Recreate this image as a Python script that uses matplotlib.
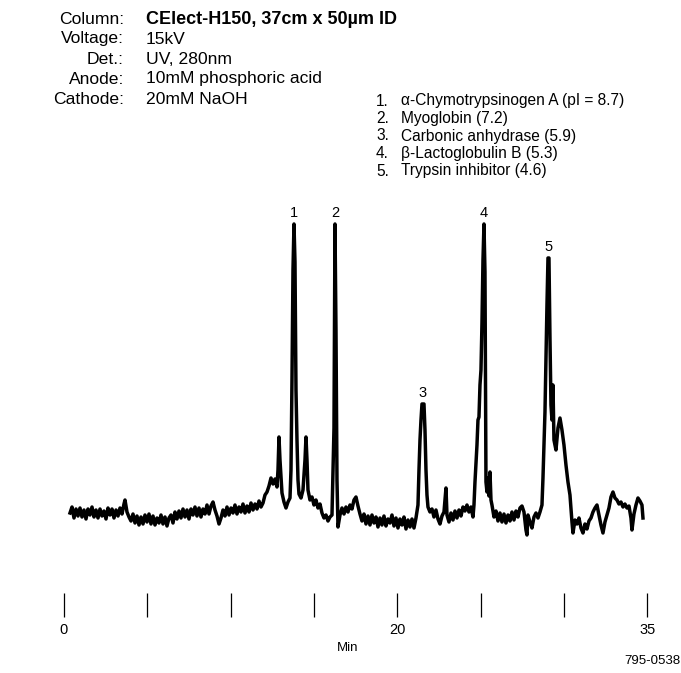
"""
Electropherogramme CElect-H150 : 5 protéines (cIEF)
Trace relevée à la main sur la figure d'origine.
"""

import matplotlib.pyplot as plt
import numpy as np

# temps de migration (min) et absorbance (mAU, échelle arbitraire)
time_min = [
    0.36, 0.48, 0.60, 0.72, 0.84, 0.96, 1.08, 1.20, 1.32, 1.44, 1.56, 1.68, 1.80, 1.92,
    2.04, 2.16, 2.28, 2.40, 2.52, 2.64, 2.76, 2.88, 3.00, 3.12, 3.24, 3.36, 3.48, 3.60,
    3.66, 3.78, 3.90, 4.02, 4.14, 4.26, 4.38, 4.50, 4.62, 4.74, 4.86, 4.98, 5.10, 5.22,
    5.34, 5.46, 5.58, 5.70, 5.82, 5.94, 6.06, 6.18, 6.30, 6.42, 6.54, 6.66, 6.78, 6.90,
    7.02, 7.14, 7.26, 7.38, 7.50, 7.62, 7.74, 7.86, 7.98, 8.10, 8.22, 8.34, 8.46, 8.58,
    8.70, 8.82, 8.94, 9.06, 9.18, 9.30, 9.42, 9.54, 9.66, 9.78, 9.90, 10.02, 10.14, 10.26,
    10.38, 10.50, 10.62, 10.74, 10.86, 10.98, 11.10, 11.22, 11.34, 11.46, 11.58, 11.70,
    11.82, 11.94, 12.06, 12.18, 12.30, 12.42, 12.54, 12.66, 12.78, 12.84, 12.90, 12.96,
    13.08, 13.20, 13.32, 13.44, 13.56, 13.62, 13.68, 13.74, 13.80, 13.86, 13.92, 13.98,
    14.04, 14.10, 14.22, 14.34, 14.46, 14.52, 14.58, 14.64, 14.76, 14.88, 15.00, 15.12,
    15.24, 15.36, 15.48, 15.60, 15.72, 15.84, 15.96, 16.08, 16.14, 16.20, 16.26, 16.32,
    16.38, 16.44, 16.56, 16.68, 16.80, 16.92, 17.04, 17.16, 17.28, 17.40, 17.52, 17.64,
    17.76, 17.88, 18.00, 18.12, 18.24, 18.36, 18.48, 18.60, 18.72, 18.84, 18.96, 19.08,
    19.20, 19.32, 19.44, 19.56, 19.68, 19.80, 19.92, 20.04, 20.16, 20.28, 20.40, 20.52,
    20.64, 20.76, 20.88, 21.00, 21.12, 21.24, 21.30, 21.36, 21.42, 21.48, 21.60, 21.66,
    21.72, 21.78, 21.84, 21.96, 22.08, 22.20, 22.32, 22.44, 22.56, 22.68, 22.80, 22.92,
    22.98, 23.10, 23.22, 23.34, 23.46, 23.58, 23.70, 23.82, 23.94, 24.06, 24.18, 24.30,
    24.42, 24.54, 24.60, 24.66, 24.78, 24.84, 24.90, 24.96, 25.02, 25.08, 25.14, 25.20,
    25.26, 25.32, 25.38, 25.44, 25.50, 25.56, 25.62, 25.68, 25.80, 25.92, 26.04, 26.16,
    26.28, 26.40, 26.52, 26.64, 26.76, 26.88, 27.00, 27.12, 27.24, 27.36, 27.48, 27.60,
    27.72, 27.78, 27.84, 27.96, 28.08, 28.20, 28.32, 28.44, 28.56, 28.68, 28.74, 28.86,
    28.98, 29.04, 29.10, 29.16, 29.22, 29.28, 29.34, 29.40, 29.52, 29.64, 29.76, 29.88,
    30.00, 30.12, 30.24, 30.36, 30.48, 30.54, 30.66, 30.78, 30.90, 31.02, 31.14, 31.26,
    31.38, 31.50, 31.62, 31.74, 31.86, 31.98, 32.10, 32.22, 32.34, 32.46, 32.58, 32.70,
    32.82, 32.94, 33.06, 33.18, 33.30, 33.42, 33.54, 33.66, 33.78, 33.90, 34.02, 34.08,
    34.20, 34.32, 34.44, 34.56, 34.68, 34.74,
]

absorbance = [
    1.7, 2.3, 1.2, 2.1, 1.4, 2.2, 1.3, 2.0, 1.1, 2.1, 1.5, 2.3, 1.3, 2.0,
    1.2, 2.1, 1.4, 1.9, 1.1, 2.2, 1.5, 2.1, 1.2, 2.0, 1.4, 2.2, 1.6, 2.6,
    3.0, 1.8, 1.3, 0.9, 1.6, 0.7, 1.4, 0.5, 1.3, 0.6, 1.5, 0.8, 1.6, 0.6,
    1.4, 0.5, 1.2, 0.7, 1.5, 0.6, 1.3, 0.4, 1.2, 1.5, 0.7, 1.8, 1.1, 1.9,
    1.2, 2.1, 1.3, 2.0, 1.1, 2.1, 1.5, 2.3, 1.4, 2.2, 1.3, 2.1, 1.6, 2.5,
    1.6, 2.4, 2.8, 2.0, 1.4, 0.6, 1.2, 2.0, 1.4, 2.3, 1.5, 2.2, 1.7, 2.5,
    1.6, 2.3, 1.8, 2.6, 1.7, 2.4, 1.8, 2.7, 2.0, 2.6, 2.1, 2.9,
    2.3, 2.7, 3.5, 3.8, 4.4, 5.2, 4.6, 5.1, 4.3, 6.0, 9.3, 7.0,
    3.7, 2.8, 2.2, 2.8, 3.2, 6.0, 15.0, 26.0, 30.6, 26.8, 14.0, 9.0,
    5.0, 3.6, 3.2, 4.0, 7.0, 9.3, 7.0, 4.0, 3.0, 3.3, 2.5, 3.0,
    2.2, 2.6, 1.7, 1.2, 1.5, 0.9, 1.3, 1.5, 6.0, 10.2, 30.6, 20.0,
    5.0, 0.3, 1.5, 2.2, 1.6, 2.3, 1.8, 2.5, 2.1, 3.0, 3.3, 2.4,
    1.6, 0.9, 1.6, 0.6, 1.4, 0.5, 1.5, 0.7, 1.3, 0.3, 1.2, 0.5,
    1.4, 0.4, 1.1, 0.7, 1.5, 0.4, 1.2, 0.2, 1.1, 0.5, 1.3, 0.1,
    1.0, 0.3, 1.1, 0.2, 1.2, 2.5, 6.0, 9.0, 11.0, 12.6, 12.6, 10.0,
    6.0, 3.5, 2.3, 1.8, 2.1, 1.3, 2.0, 1.1, 0.6, 1.4, 1.8, 4.2,
    1.5, 0.8, 1.7, 1.0, 1.9, 1.2, 2.0, 1.4, 2.3, 1.9, 2.5, 1.8,
    2.3, 1.3, 2.5, 4.8, 8.5, 11.0, 11.3, 14.5, 16.0, 20.7, 27.0, 30.6,
    25.8, 4.8, 3.8, 5.2, 3.4, 5.8, 3.0, 2.5, 1.3, 1.9, 0.9, 1.7,
    0.8, 1.6, 0.7, 1.5, 0.9, 1.8, 1.0, 1.9, 1.3, 2.2, 2.4, 1.8,
    0.0, -0.5, 1.5, 0.8, 0.2, 1.3, 1.7, 1.2, 1.8, 2.5, 5.2, 11.8,
    22.5, 27.2, 27.2, 19.2, 12.5, 11.0, 14.5, 9.0, 8.0, 10.2, 11.2, 10.0,
    8.5, 6.5, 4.8, 3.5, 0.8, -0.3, 1.0, 0.6, 1.2, 0.2, -0.3, 0.6,
    0.1, 0.9, 1.2, 1.8, 2.2, 2.5, 1.5, 0.5, -0.3, 0.8, 1.5, 2.2,
    3.3, 3.8, 3.2, 3.0, 2.6, 2.8, 2.3, 2.6, 2.2, 2.4, 1.2, 0.0,
    1.6, 2.5, 3.2, 2.9, 2.5, 1.2,
]

# pics identifiés
peak_ids = ["1", "2", "3", "4", "5"]
peak_times = [13.80, 16.26, 21.54, 25.20, 29.07]

# graduations de l'axe des temps
tick_values = [0, 5, 10, 15, 20, 25, 30, 35]
tick_labels = ["0", "", "", "", "20", "", "", "35"]

# conditions opératoires
cond_labels = ["Column:", "Voltage:", "Det.:", "Anode:", "Cathode:"]
cond_values = ["CElect-H150, 37cm x 50µm ID", "15kV", "UV, 280nm",
               "10mM phosphoric acid", "20mM NaOH"]

# légende des protéines (pI)
protein_names = ["α-Chymotrypsinogen A (pI = 8.7)", "Myoglobin (7.2)",
                 "Carbonic anhydrase (5.9)", "β-Lactoglobulin B (5.3)",
                 "Trypsin inhibitor (4.6)"]

W, H = 681, 673


def fx(px):
    return px / W


def fy(py):
    return 1 - py / H


def main():
    plt.rcParams["font.family"] = ["Liberation Sans", "DejaVu Sans"]
    fig = plt.figure(figsize=(W / 100, H / 100), dpi=100)

    # trace
    ax = fig.add_axes([fx(64), fy(550), fx(647.3) - fx(64), fy(200) - fy(550)])
    t = np.array(time_min)
    a = np.array(absorbance)
    ax.plot(t, a, color="black", linewidth=2.5, solid_joinstyle="round")
    ax.set_xlim(0, 35)
    ax.set_ylim(-2, 33)
    ax.axis("off")

    for pid, pt in zip(peak_ids, peak_times):
        win = (t > pt - 0.15) & (t < pt + 0.15)
        top = a[win].max()
        ax.annotate(pid, (pt, top), xytext=(0, 3), textcoords="offset points",
                    ha="center", va="bottom", fontsize=10.5)

    # échelle des temps
    sc = fig.add_axes([fx(64), fy(617), fx(647.3) - fx(64), 0.03])
    sc.set_xlim(0, 35)
    sc.set_ylim(0, 1)
    for s in sc.spines.values():
        s.set_visible(False)
    sc.set_yticks([])
    sc.set_xticks(tick_values)
    sc.set_xticklabels(tick_labels)
    sc.tick_params(axis="x", direction="in", length=17, width=0.9,
                   pad=4, labelsize=10.5)
    fig.text(fx(348), fy(648), "Min", ha="center", va="center", fontsize=9.5)
    fig.text(fx(652), fy(661), "795-0538", ha="center", va="center", fontsize=9.5)

    # conditions
    for i, (lab, val) in enumerate(zip(cond_labels, cond_values)):
        y = 19 + i * 20
        fig.text(fx(124), fy(y), lab, ha="right", va="center", fontsize=12.6)
        fig.text(fx(146), fy(y), val, ha="left", va="center",
                 fontsize=13 if i == 0 else 12.6,
                 fontweight="bold" if i == 0 else "normal")

    # légende
    for i, name in enumerate(protein_names):
        y = 101 + i * 17.5
        fig.text(fx(376), fy(y), f"{i + 1}.", ha="left", va="center", fontsize=11.2)
        fig.text(fx(401), fy(y), name, ha="left", va="center", fontsize=11.2)

    plt.savefig("out.png", dpi=100)
    plt.close()


if __name__ == "__main__":
    main()
